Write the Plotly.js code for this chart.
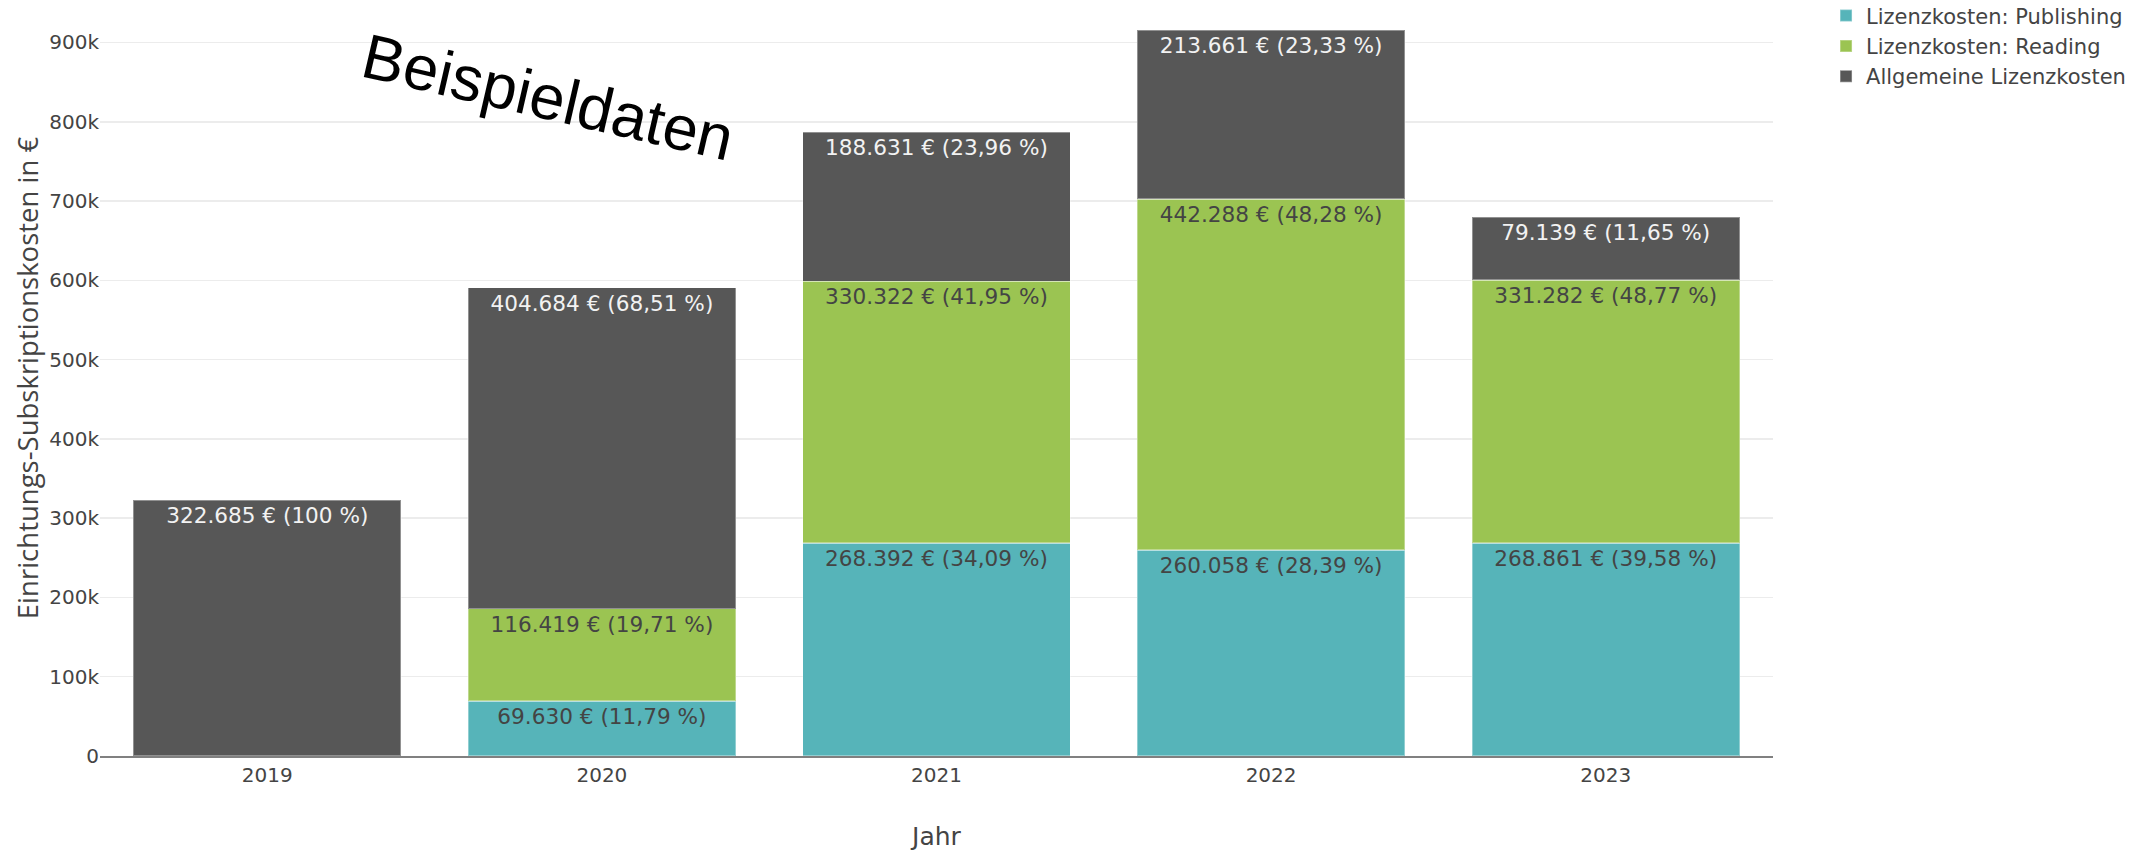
<!DOCTYPE html>
<html>
<head>
<meta charset="utf-8">
<script src="https://cdn.plot.ly/plotly-3.0.1.min.js"></script>
<style>
  html, body { margin: 0; padding: 0; background: #fff; }
  #chart { width: 2154px; height: 852px; }
</style>
</head>
<body>
<div id="chart"></div>
<script>
// ---- Data ----
var years = ['2019', '2020', '2021', '2022', '2023'];
var seriesNames = ['Lizenzkosten: Publishing', 'Lizenzkosten: Reading', 'Allgemeine Lizenzkosten'];
var publishing = [null, 69630, 268392, 260058, 268861];
var reading    = [null, 116419, 330322, 442288, 331282];
var allgemein  = [322685, 404684, 188631, 213661, 79139];
var yTickVals  = [0, 100000, 200000, 300000, 400000, 500000, 600000, 700000, 800000, 900000];
var yTickText  = ['0', '100k', '200k', '300k', '400k', '500k', '600k', '700k', '800k', '900k'];

// ---- helpers ----
function fmtThousands(v) {
  return String(v).replace(/\B(?=(\d{3})+(?!\d))/g, '.');
}
function fmtPct(p) {
  var r = Math.round(p * 100) / 100;
  if (Math.abs(r - Math.round(r)) < 1e-9) return String(Math.round(r));
  return r.toFixed(2).replace('.', ',');
}
var totals = years.map(function (_, i) {
  return (publishing[i] || 0) + (reading[i] || 0) + (allgemein[i] || 0);
});
function labels(vals) {
  return vals.map(function (v, i) {
    if (v === null) return '';
    return fmtThousands(v) + ' € (' + fmtPct(v / totals[i] * 100) + ' %)';
  });
}

var colors = ['rgb(86,180,185)', 'rgb(155,196,82)', 'rgb(87,87,87)'];
var textColors = ['#444444', '#444444', '#f2f2f2'];
var allVals = [publishing, reading, allgemein];

var traces = allVals.map(function (vals, k) {
  return {
    type: 'bar',
    name: seriesNames[k],
    x: years,
    y: vals,
    text: labels(vals),
    textposition: 'inside',
    insidetextanchor: 'end',
    textangle: 0,
    insidetextfont: { family: 'DejaVu Sans, Verdana, sans-serif', size: 21.6, color: textColors[k] },
    constraintext: 'none',
    hoverinfo: 'none',
    marker: { color: colors[k], line: { color: 'rgba(255,255,255,0.35)', width: 1.5 } }
  };
});

var layout = {
  width: 2154,
  height: 852,
  barmode: 'stack',
  bargap: 0.2,
  paper_bgcolor: '#ffffff',
  plot_bgcolor: '#ffffff',
  font: { family: 'DejaVu Sans, Verdana, sans-serif', size: 20, color: '#444444' },
  margin: { l: 100, r: 381, t: 0, b: 96, pad: 0, autoexpand: false },
  showlegend: true,
  legend: {
    x: 1.0317, xanchor: 'left', y: 1.006, yanchor: 'top',
    font: { size: 21, color: '#444444' },
    traceorder: 'normal'
  },
  xaxis: {
    type: 'category',
    showline: true, linecolor: '#808080', linewidth: 2,
    showgrid: false, zeroline: false, ticks: '',
    tickfont: { size: 20, color: '#444444' },
    title: { text: 'Jahr', font: { size: 25, color: '#444444' }, standoff: 41 }
  },
  yaxis: {
    range: [0, 953600],
    tickvals: yTickVals, ticktext: yTickText,
    showgrid: true, gridcolor: '#ececec', gridwidth: 1.5,
    zeroline: false, showline: false, ticks: '',
    tickfont: { size: 20, color: '#444444' },
    title: { text: 'Einrichtungs-Subskriptionskosten in €', font: { family: 'Open Sans, sans-serif', size: 27.5, color: '#444444' }, standoff: 2 }
  },
  annotations: [{
    xref: 'paper', yref: 'paper',
    x: 0.268, y: 0.872,
    xanchor: 'center', yanchor: 'middle',
    text: 'Beispieldaten',
    showarrow: false,
    textangle: 13,
    font: { family: 'Liberation Sans, Arial, sans-serif', size: 63, color: '#000000' }
  }]
};

Plotly.newPlot('chart', traces, layout, { displayModeBar: false, staticPlot: true });
</script>
</body>
</html>
